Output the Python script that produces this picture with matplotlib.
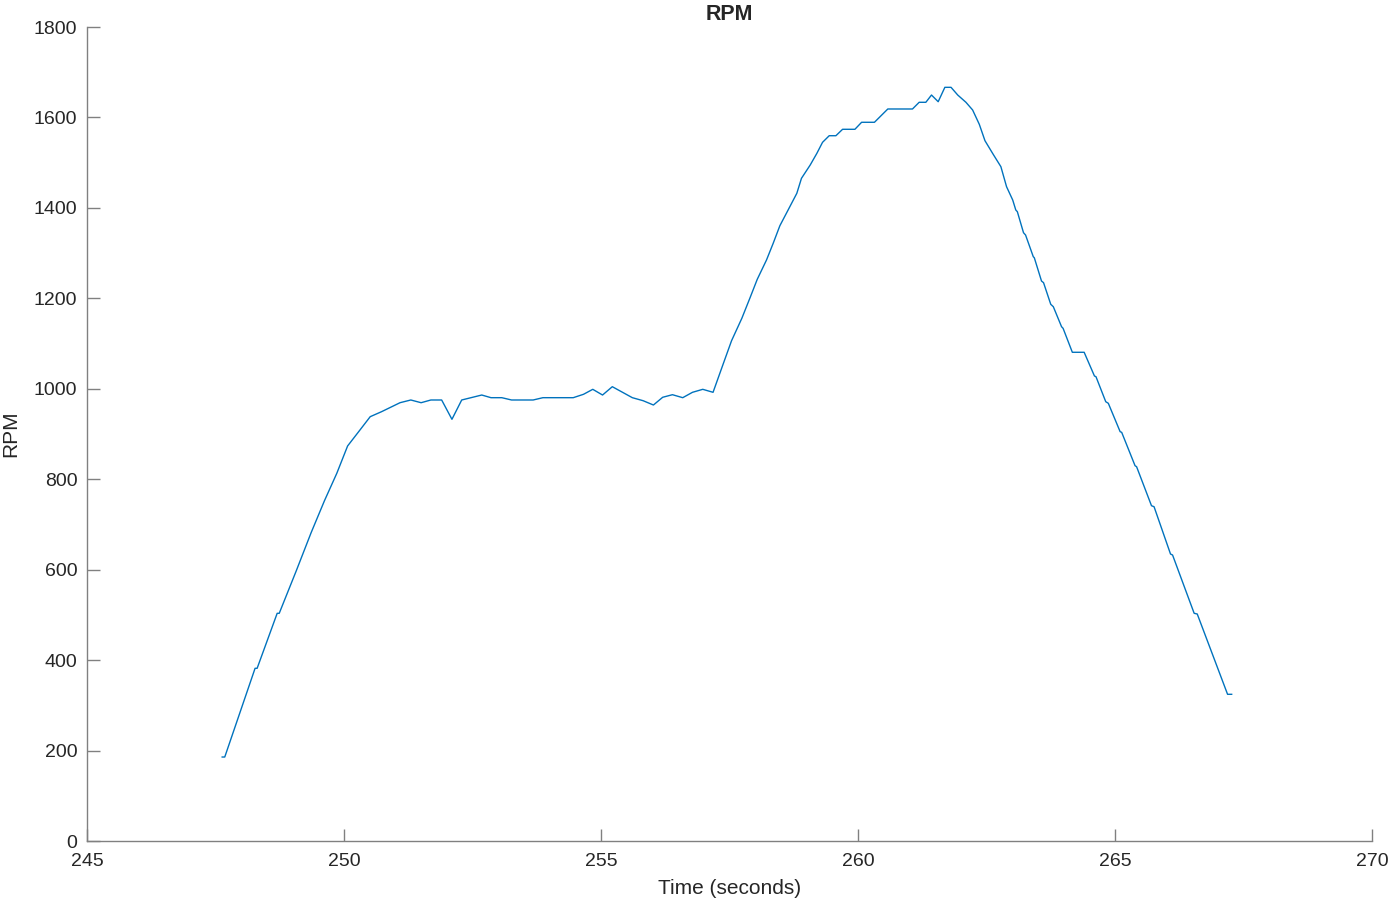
import numpy as np
import matplotlib.pyplot as plt

plt.rcParams['font.family'] = ['Liberation Sans', 'DejaVu Sans']

# time (s) and rpm
time_s = [
    247.63, 247.68, 248.27, 248.31, 248.70, 248.74, 249.07, 249.36, 249.62, 249.86,
    250.07, 250.30, 250.51, 250.73, 251.09, 251.30, 251.50, 251.69, 251.90, 252.10,
    252.29, 252.68, 252.86, 253.07, 253.26, 253.68, 253.87, 254.46, 254.66, 254.84,
    255.03, 255.22, 255.61, 255.82, 256.02, 256.20, 256.39, 256.59, 256.78, 256.98,
    257.18, 257.37, 257.54, 257.74, 257.90, 258.04, 258.22, 258.35, 258.48, 258.64,
    258.81, 258.90, 259.07, 259.20, 259.31, 259.44, 259.57, 259.70, 259.94, 260.07,
    260.32, 260.58, 261.06, 261.19, 261.32, 261.43, 261.56, 261.69, 261.81, 261.94,
    262.10, 262.23, 262.36, 262.47, 262.63, 262.78, 262.89, 263.01, 263.07, 263.10,
    263.22, 263.26, 263.41, 263.43, 263.57, 263.61, 263.75, 263.80, 263.96, 263.99,
    264.17, 264.40, 264.60, 264.63, 264.82, 264.87, 265.10, 265.13, 265.39, 265.42,
    265.71, 265.76, 266.08, 266.12, 266.54, 266.60, 267.19, 267.27,
]
rpm = [
    185.7, 185.7, 381.9, 381.9, 503.5, 503.5, 597.1, 681.7, 752.5, 813.1,
    873.5, 907.3, 938.3, 949.3, 969.2, 975.2, 969.2, 975.2, 975.2, 932.5,
    975.2, 986.2, 980.3, 980.3, 975.2, 975.2, 980.3, 980.3, 987.8, 998.8,
    986.2, 1004.6, 980.3, 973.6, 964.1, 981.2, 986.9, 980.3, 992.2, 998.8,
    992.2, 1052.6, 1106.3, 1155.8, 1201.4, 1242.1, 1284.8, 1321.7, 1360.6, 1395.3,
    1432.3, 1465.4, 1494.8, 1520.7, 1545.0, 1559.6, 1559.6, 1573.8, 1573.8, 1589.3,
    1589.3, 1618.7, 1618.7, 1633.5, 1633.5, 1649.6, 1634.8, 1666.6, 1666.6, 1649.6,
    1633.5, 1616.5, 1584.8, 1548.6, 1518.5, 1491.1, 1446.9, 1417.4, 1395.3, 1391.6,
    1345.1, 1340.0, 1292.1, 1289.8, 1238.3, 1234.6, 1186.8, 1181.5, 1137.3, 1133.7,
    1080.7, 1080.7, 1028.3, 1026.7, 971.4, 967.9, 905.1, 903.7, 829.9, 827.7,
    741.4, 739.2, 634.6, 632.4, 503.5, 502.0, 324.4, 324.4,
]

x_ticks = np.arange(245, 271, 5)
y_ticks = np.arange(0, 1801, 200)

fig = plt.figure(figsize=(13.92, 9.02), dpi=100)
ax = fig.add_axes([87 / 1392, 61 / 902, 1285 / 1392, 814 / 902])

ax.plot(time_s, rpm, color='#0072BD', linewidth=1.0)

ax.set_xlim(245, 270)
ax.set_ylim(0, 1800)
ax.set_xticks(x_ticks)
ax.set_yticks(y_ticks)

for side in ['top', 'right']:
    ax.spines[side].set_visible(False)
for side in ['left', 'bottom']:
    ax.spines[side].set_color('#808080')
    ax.spines[side].set_linewidth(1.0)

ax.tick_params(direction='in', length=9, width=1.0, color='#808080',
               labelcolor='#262626', labelsize=14, pad=7)
ax.tick_params(axis='x', pad=9)

# fixed y so matplotlib doesn't auto-lift the title
ax.set_title('RPM', fontsize=15.5, fontweight='bold', color='#262626', y=1.0, pad=5)
ax.set_xlabel('Time (seconds)', fontsize=15, color='#262626', labelpad=6)
ax.set_ylabel('RPM', fontsize=15, color='#262626', labelpad=10)

fig.savefig('out.png', dpi=100)
